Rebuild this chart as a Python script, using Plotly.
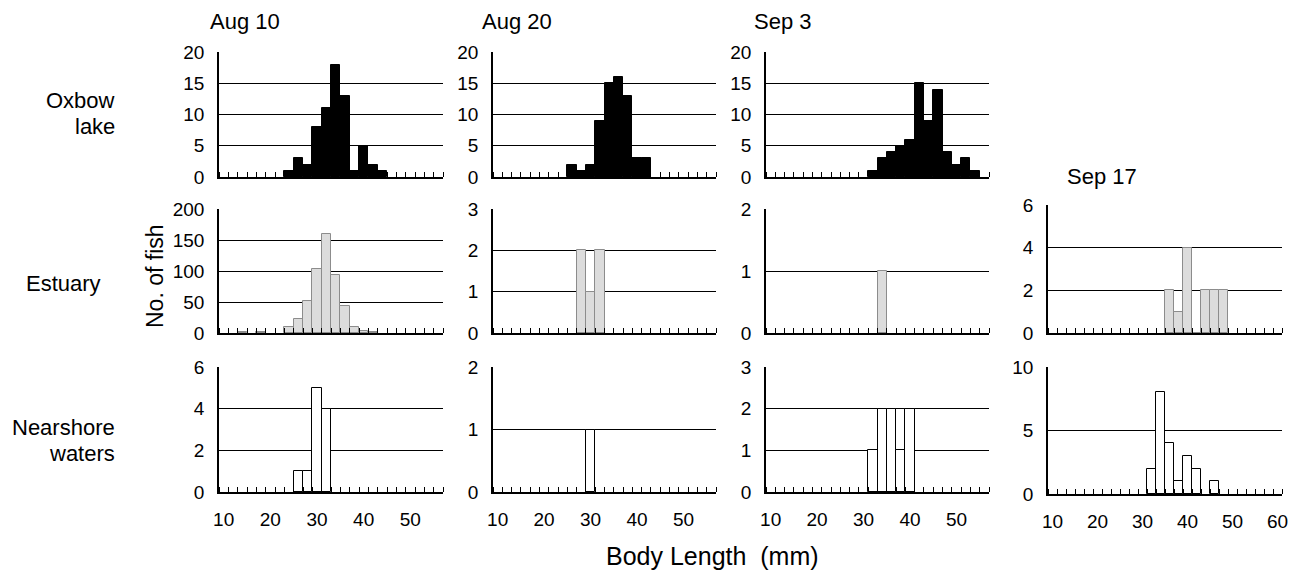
import plotly.graph_objects as go

# ---------------- data (body length bin centre in mm, number of fish) ----------------
oxbow_aug10_len = [24, 26, 28, 30, 32, 34, 36, 38, 40, 42, 44]
oxbow_aug10_n = [1, 3, 2, 8, 11, 18, 13, 1, 5, 2, 1]
oxbow_aug20_len = [26, 28, 30, 32, 34, 36, 38, 40, 42]
oxbow_aug20_n = [2, 1, 2, 9, 15, 16, 13, 3, 3]
oxbow_sep3_len = [32, 34, 36, 38, 40, 42, 44, 46, 48, 50, 52, 54]
oxbow_sep3_n = [1, 3, 4, 5, 6, 15, 9, 14, 4, 2, 3, 1]

estuary_aug10_len = [14, 18, 24, 26, 28, 30, 32, 34, 36, 38, 40, 42]
estuary_aug10_n = [1, 1, 9, 23, 51, 103, 159, 93, 43, 9, 3, 1]
estuary_aug20_len = [28, 30, 32]
estuary_aug20_n = [2, 1, 2]
estuary_sep3_len = [34]
estuary_sep3_n = [1]
estuary_sep17_len = [36, 38, 40, 42, 44, 46, 48]
estuary_sep17_n = [2, 1, 4, 0, 2, 2, 2]

nearshore_aug10_len = [26, 28, 30, 32]
nearshore_aug10_n = [1, 1, 5, 4]
nearshore_aug20_len = [30]
nearshore_aug20_n = [1]
nearshore_sep3_len = [32, 34, 36, 38, 40]
nearshore_sep3_n = [1, 2, 2, 1, 2]
nearshore_sep17_len = [32, 34, 36, 38, 40, 42, 46]
nearshore_sep17_n = [2, 8, 4, 1, 3, 2, 1]

dates = ["Aug 10", "Aug 20", "Sep 3", "Sep 17"]
habitats = [["Oxbow", "lake"], ["Estuary"], ["Nearshore", "waters"]]
x_tick_labels = [10, 20, 30, 40, 50, 60]
y_axis_title = "No. of fish"
x_axis_title = "Body Length  (mm)"

# y-axis maxima and steps per panel
y_max = {(0, 0): 20, (0, 1): 20, (0, 2): 20,
         (1, 0): 200, (1, 1): 3, (1, 2): 2, (1, 3): 6,
         (2, 0): 6, (2, 1): 2, (2, 2): 3, (2, 3): 10}
y_step = {(0, 0): 5, (0, 1): 5, (0, 2): 5,
          (1, 0): 50, (1, 1): 1, (1, 2): 1, (1, 3): 2,
          (2, 0): 2, (2, 1): 1, (2, 2): 1, (2, 3): 5}

panels = {
    (0, 0): (oxbow_aug10_len, oxbow_aug10_n),
    (0, 1): (oxbow_aug20_len, oxbow_aug20_n),
    (0, 2): (oxbow_sep3_len, oxbow_sep3_n),
    (1, 0): (estuary_aug10_len, estuary_aug10_n),
    (1, 1): (estuary_aug20_len, estuary_aug20_n),
    (1, 2): (estuary_sep3_len, estuary_sep3_n),
    (1, 3): (estuary_sep17_len, estuary_sep17_n),
    (2, 0): (nearshore_aug10_len, nearshore_aug10_n),
    (2, 1): (nearshore_aug20_len, nearshore_aug20_n),
    (2, 2): (nearshore_sep3_len, nearshore_sep3_n),
    (2, 3): (nearshore_sep17_len, nearshore_sep17_n),
}

# ---------------- layout geometry (screen pixels; the page body has an 8px margin) ----------------
OFF = 8
W, H = 1298 - OFF, 574 - OFF
col_px = [(219, 443), (493, 716), (766, 989), (1048, 1282)]
row_px = [(52, 177), (209, 333), (367, 492)]
row_px_col4 = {1: (205, 333), 2: (367, 494)}
x_range = {0: [9, 57], 1: [9, 57], 2: [9, 57], 3: [9, 61]}


def fx(px):
    return (px - OFF) / W


def fy(py):
    return 1 - (py - OFF) / H


styles = [
    dict(color="#000000", line=dict(color="#000000", width=1)),
    dict(color="#dcdcdc", line=dict(color="#8c8c8c", width=1)),
    dict(color="#ffffff", line=dict(color="#000000", width=1)),
]

FONT = "Liberation Sans, Arial, sans-serif"

fig = go.Figure()
layout = dict(
    width=W, height=H,
    margin=dict(l=0, r=0, t=0, b=0, pad=0, autoexpand=False),
    paper_bgcolor="white", plot_bgcolor="white",
    showlegend=False,
    font=dict(family=FONT, color="black", size=19),
    bargap=0,
)

idx = 0
for (r, c), (lens, ns) in panels.items():
    idx += 1
    xa = "x" if idx == 1 else f"x{idx}"
    ya = "y" if idx == 1 else f"y{idx}"
    fig.add_trace(go.Bar(x=lens, y=ns, width=2, marker=styles[r],
                         xaxis=xa, yaxis=ya, hoverinfo="x+y"))
    x0, x1 = col_px[c]
    if c == 3:
        y0, y1 = row_px_col4[r]
    else:
        y0, y1 = row_px[r]
    kx = "xaxis" if idx == 1 else f"xaxis{idx}"
    ky = "yaxis" if idx == 1 else f"yaxis{idx}"
    layout[kx] = dict(
        domain=[fx(x0), fx(x1)], anchor=ya, range=x_range[c],
        showgrid=False, zeroline=False, automargin=False,
        showline=True, linecolor="black", linewidth=2,
        tickmode="array", tickvals=x_tick_labels, ticktext=[str(v) for v in x_tick_labels],
        ticks="", showticklabels=(r == 2), ticklabelstandoff=9,
        tickfont=dict(size=19, family=FONT),
        minor=dict(ticks="inside", tick0=11, dtick=2, ticklen=5,
                   tickcolor="black", tickwidth=1, showgrid=False),
        fixedrange=True,
    )
    layout[ky] = dict(
        domain=[fy(y1), fy(y0)], anchor=xa, automargin=False,
        range=[0, y_max[(r, c)]], tickmode="linear", tick0=0, dtick=y_step[(r, c)],
        showgrid=True, gridcolor="black", gridwidth=1,
        zeroline=False, showline=True, linecolor="black", linewidth=1.5,
        ticks="", ticklabelstandoff=9,
        tickfont=dict(size=19, family=FONT),
        fixedrange=True,
    )

annotations = []
# column titles
title_pos = [(208, 22), (480, 22), (752, 22), (1065, 176)]
for d, (px, py) in zip(dates, title_pos):
    annotations.append(dict(text=d, x=fx(px), y=fy(py), xref="paper", yref="paper",
                            xanchor="left", yanchor="middle", showarrow=False,
                            font=dict(size=22, family=FONT)))
# row labels
row_label_pos = [[(117, 100), (117, 126)], [(103, 283)], [(117, 427), (117, 453)]]
for lines, poss in zip(habitats, row_label_pos):
    for t, (px, py) in zip(lines, poss):
        annotations.append(dict(text=t, x=fx(px), y=fy(py), xref="paper", yref="paper",
                                xanchor="right", yanchor="middle", showarrow=False,
                                font=dict(size=22, family=FONT)))
annotations.append(dict(text=y_axis_title, x=fx(155), y=fy(276), xref="paper", yref="paper",
                        textangle=-90, xanchor="center", yanchor="middle", showarrow=False,
                        font=dict(size=23, family=FONT)))
annotations.append(dict(text=x_axis_title, x=fx(712), y=fy(556), xref="paper", yref="paper",
                        xanchor="center", yanchor="middle", showarrow=False,
                        font=dict(size=25, family=FONT)))
layout["annotations"] = annotations

fig.update_layout(**layout)
fig.write_html("out.html")
